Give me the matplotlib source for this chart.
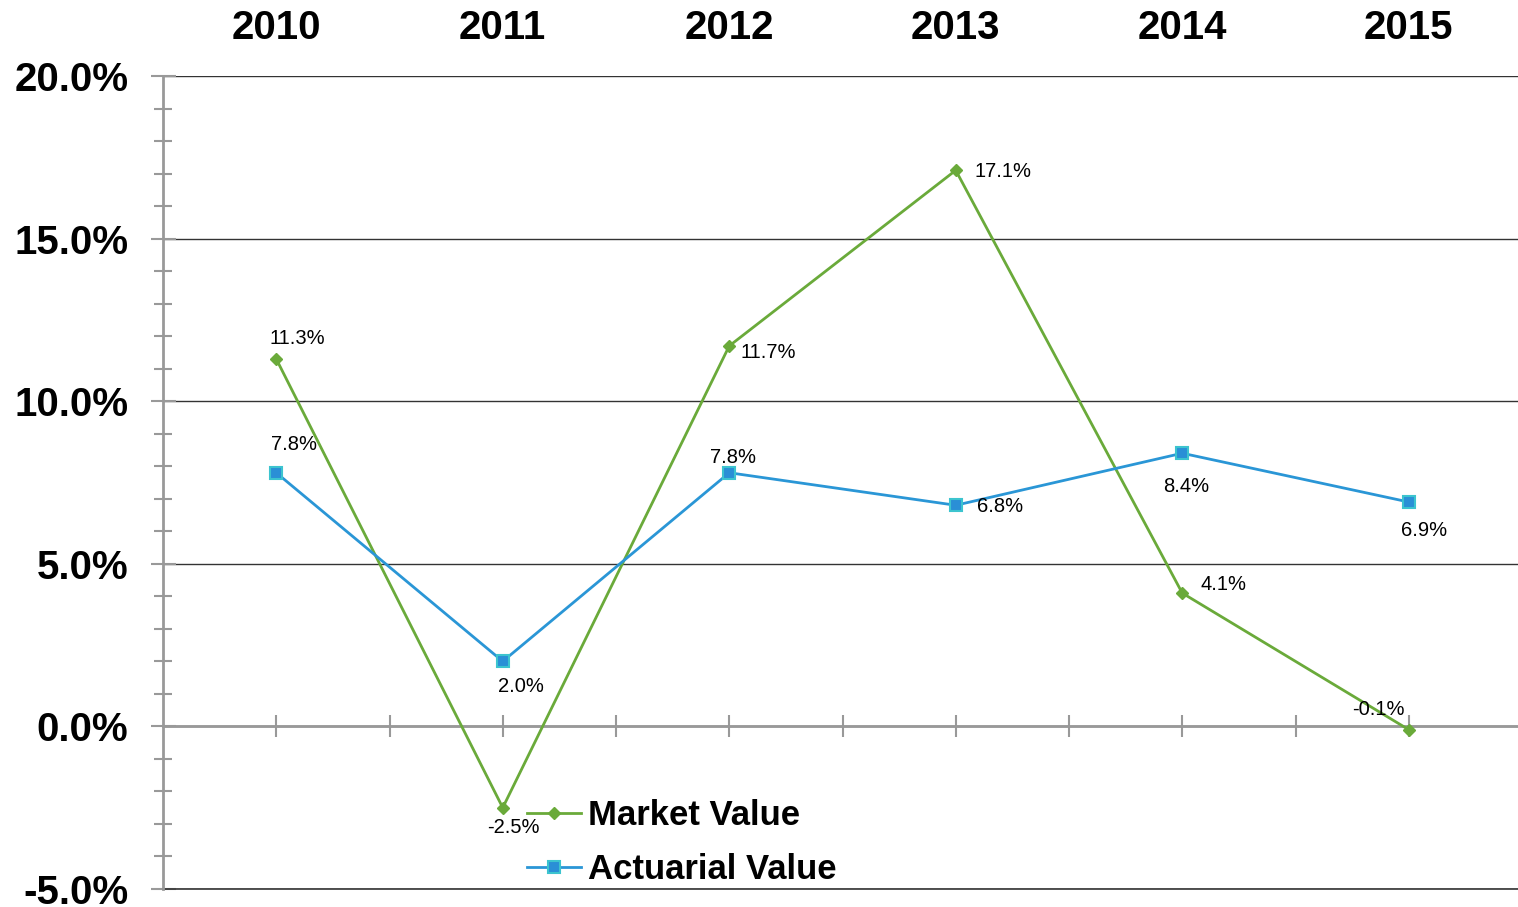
import numpy as np
import matplotlib
matplotlib.use('Agg')
import matplotlib.pyplot as plt
from matplotlib.ticker import MultipleLocator, FuncFormatter

years = ['2010', '2011', '2012', '2013', '2014', '2015']
market = [11.3, -2.5, 11.7, 17.1, 4.1, -0.1]
actuarial = [7.8, 2.0, 7.8, 6.8, 8.4, 6.9]

# label offsets in pixels (dx, dy) from each point
market_off = [(21, 20), (11, -20), (39, -7), (47, -1), (41, 9), (-30, 20)]
actuarial_off = [(18, 28), (18, -25), (4, 15), (44, -1), (4, -33), (15, -28)]

plt.rcParams['font.family'] = ['Liberation Sans', 'DejaVu Sans']

fig = plt.figure(figsize=(15.18, 9.07), dpi=100)
ax = fig.add_axes([163 / 1518, 1 - 889 / 907, (1522 - 163) / 1518, 813 / 907])

x = np.arange(len(years))
green = '#6aaa3a'
blue = '#2a96d6'
ax.plot(x, market, color=green, lw=2, marker='D', ms=6, mfc=green, mec=green,
        label='Market Value', zorder=4)
ax.plot(x, actuarial, color=blue, lw=2, marker='s', ms=8, mfc='#2a8fd6', mec='#3cc4cf',
        mew=1.5, label='Actuarial Value', zorder=4)

for i, v in enumerate(market):
    ax.annotate(f'{v:.1f}%', (x[i], v), xytext=market_off[i], textcoords='offset pixels',
                ha='center', va='center', fontsize=14.5, zorder=5)
for i, v in enumerate(actuarial):
    ax.annotate(f'{v:.1f}%', (x[i], v), xytext=actuarial_off[i], textcoords='offset pixels',
                ha='center', va='center', fontsize=14.5, zorder=5)

ax.set_xlim(-0.5, 5.5)
ax.set_ylim(-5, 20)

ax.set_xticks(x)
ax.set_xticks(x[:-1] + 0.5, minor=True)
ax.tick_params(axis='x', which='both', top=False, bottom=True, labeltop=True, labelbottom=False,
               direction='inout', length=16, width=1.5, color='#999999', labelsize=29, pad=13)
ax.set_xticklabels(years, fontweight='bold', fontsize=29)

ax.yaxis.set_major_locator(MultipleLocator(5))
ax.yaxis.set_minor_locator(MultipleLocator(1))
ax.yaxis.set_major_formatter(FuncFormatter(lambda v, p: f'{v:.1f}%'))
ax.tick_params(axis='y', which='major', direction='inout', length=18, width=1.5,
               color='#999999', labelsize=29, pad=16)
ax.tick_params(axis='y', which='minor', direction='inout', length=13, width=1.5, color='#999999')

ax.yaxis.grid(True, which='major', color='#333333', lw=1)
ax.axhline(-5, color='#333333', lw=1.2, clip_on=False, zorder=1)
ax.set_axisbelow(True)
for s in ['top', 'right']:
    ax.spines[s].set_visible(False)
ax.spines['bottom'].set_position(('data', 0))
ax.spines['bottom'].set_color('#999999')
ax.spines['bottom'].set_linewidth(2)
ax.spines['left'].set_color('#999999')
ax.spines['left'].set_linewidth(2)

leg = ax.legend(loc='upper left', bbox_to_anchor=(513 / 1518, 1 - 785 / 907),
                bbox_transform=fig.transFigure, frameon=False, handlelength=1.55,
                handletextpad=0.2, labelspacing=0.6, borderaxespad=0,
                prop={'weight': 'bold', 'size': 25})

# make bold after a draw so the tick objects exist
fig.canvas.draw()
for t in ax.xaxis.get_major_ticks():
    t.label1.set_fontweight('bold')
    t.label2.set_fontweight('bold')
for t in ax.yaxis.get_major_ticks():
    t.label1.set_fontweight('bold')

fig.savefig('out.png', dpi=100)
